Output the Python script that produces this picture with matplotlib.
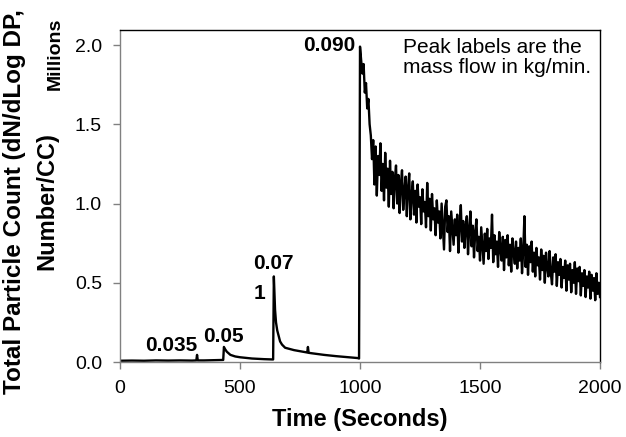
import matplotlib.pyplot as plt

plt.rcParams['font.family'] = ['Liberation Sans', 'DejaVu Sans']

# Low-flow part of the run (sparse readings)
t_low = [0, 50, 100, 150, 200, 250, 300, 318, 321, 324, 350, 400, 430, 433, 436,
         445, 460, 480, 500, 550, 600, 638, 641, 643, 646, 650, 655, 660, 667, 675,
         688, 700, 725, 750, 780, 783, 786, 800, 850, 900, 950, 990, 996]
n_low = [0.008, 0.009, 0.008, 0.010, 0.009, 0.010, 0.009, 0.010, 0.045, 0.010, 0.010,
         0.012, 0.013, 0.095, 0.085, 0.065, 0.045, 0.035, 0.030, 0.022, 0.018, 0.016,
         0.54, 0.45, 0.33, 0.25, 0.20, 0.17, 0.13, 0.11, 0.09, 0.085, 0.075, 0.068,
         0.060, 0.095, 0.058, 0.055, 0.045, 0.037, 0.030, 0.025, 0.022]

# High-flow part, one reading every 5 s from 1000 s to 2000 s (millions)
n_high = [
    1.99, 1.90, 1.82, 1.88, 1.70, 1.76, 1.60, 1.66, 1.50, 1.43,
    1.28, 1.40, 1.12, 1.36, 1.05, 1.30, 1.18, 1.38, 1.08, 1.25,
    1.02, 1.32, 1.10, 1.22, 0.98, 1.27, 1.06, 1.20, 0.97, 1.15,
    1.24, 1.00, 1.18, 0.94, 1.12, 1.21, 0.96, 1.08, 1.17, 0.92,
    1.10, 1.19, 0.90, 1.05, 1.14, 0.93, 1.08, 0.88, 1.12, 0.98,
    1.04, 0.87, 1.09, 0.95, 1.01, 0.85, 1.13, 0.92, 1.03, 0.83,
    1.06, 0.90, 0.97, 0.80, 1.02, 0.88, 0.95, 0.78, 1.00, 0.86,
    0.71, 0.98, 1.02, 0.82, 0.92, 0.70, 0.95, 0.84, 0.74, 0.90,
    0.80, 0.93, 0.69, 0.87, 0.99, 0.76, 0.89, 0.72, 0.85, 0.92,
    0.68, 0.84, 0.95, 0.73, 0.86, 0.66, 0.82, 0.90, 0.70, 0.79,
    0.64, 0.85, 0.74, 0.62, 0.81, 0.70, 0.84, 0.65, 0.78, 0.72,
    0.93, 0.63, 0.80, 0.68, 0.76, 0.60, 0.82, 0.71, 0.64, 0.79,
    0.58, 0.77, 0.66, 0.80, 0.61, 0.74, 0.57, 0.78, 0.69, 0.62,
    0.76, 0.59, 0.72, 0.64, 0.78, 0.56, 0.70, 0.92, 0.60, 0.74,
    0.55, 0.73, 0.63, 0.76, 0.57, 0.69, 0.54, 0.72, 0.61, 0.66,
    0.52, 0.71, 0.58, 0.67, 0.50, 0.69, 0.60, 0.54, 0.70, 0.56,
    0.49, 0.66, 0.57, 0.68, 0.48, 0.63, 0.55, 0.65, 0.47, 0.60,
    0.53, 0.64, 0.45, 0.61, 0.52, 0.62, 0.44, 0.58, 0.50, 0.63,
    0.43, 0.59, 0.51, 0.60, 0.42, 0.56, 0.48, 0.58, 0.41, 0.54,
    0.47, 0.57, 0.40, 0.55, 0.45, 0.53, 0.39, 0.56, 0.43, 0.50,
    0.41,
]
t_high = [1000 + 5 * i for i in range(len(n_high))]

time = t_low + t_high
count = n_low + n_high

x_ticks = [0, 500, 1000, 1500, 2000]
y_ticks = [0.0, 0.5, 1.0, 1.5, 2.0]

fig = plt.figure(figsize=(6.26, 4.37), dpi=100)
ax = fig.add_axes([0.1917, 0.1716, 0.7668, 0.7598])
ax.plot(time, count, color='black', linewidth=1.7)

ax.set_xlim(0, 2000)
ax.set_ylim(0, 2.095)
ax.set_xticks(x_ticks)
ax.set_yticks(y_ticks)
ax.set_yticklabels(['%.1f' % v for v in y_ticks])
ax.tick_params(direction='out', length=5, width=1, color='#808080',
               labelsize=14, pad=8)

ax.spines['left'].set_color('#808080')
ax.spines['bottom'].set_color('#808080')
for s in ax.spines.values():
    s.set_linewidth(1)

ax.set_xlabel('Time (Seconds)', fontsize=17, fontweight='bold', labelpad=8)
# y label as two separate lines
fig.text(15 / 626, 1 - 202 / 437, 'Total Particle Count (dN/dLog DP,',
         rotation=90, ha='center', va='center', fontsize=17.5, fontweight='bold')
fig.text(47 / 626, 1 - 201 / 437, 'Number/CC)',
         rotation=90, ha='center', va='center', fontsize=17, fontweight='bold')
fig.text(55 / 626, 1 - 54 / 437, 'Millions', rotation=90, ha='center',
         va='center', fontsize=14, fontweight='bold')

# peak labels (mass flow, kg/min)
lab = dict(fontsize=15, fontweight='bold')
ax.text(979, 2.0, '0.090', ha='right', va='center', **lab)
ax.text(321, 0.107, '0.035', ha='right', va='center', **lab)
ax.text(346, 0.164, '0.05', ha='left', va='center', **lab)
ax.text(554, 0.62, '0.07', ha='left', va='center', **lab)
ax.text(583, 0.435, '1', ha='center', va='center', **lab)
ax.text(1179, 2.045, 'Peak labels are the\nmass flow in kg/min.', ha='left',
        va='top', fontsize=15, linespacing=1.1)

plt.savefig('out.png', dpi=100)
